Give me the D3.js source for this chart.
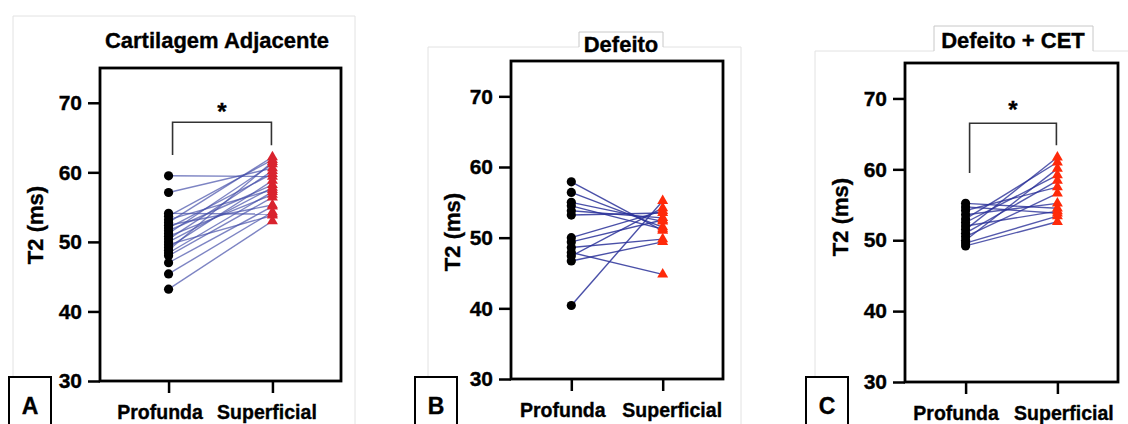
<!DOCTYPE html>
<html>
<head>
<meta charset="utf-8">
<script src="https://cdn.jsdelivr.net/npm/d3@7"></script>
<style>
  body { margin: 0; background: #fff; }
  text { font-family: "Liberation Sans", Arial, sans-serif; font-weight: bold; fill: #000; stroke: #000; stroke-width: 0.35px; }
</style>
</head>
<body>
<div id="chart"></div>
<script>
// categories and ticks
const categories = ["Profunda", "Superficial"];
const yTicks = [30, 40, 50, 60, 70];
const titles = ["Cartilagem Adjacente", "Defeito", "Defeito + CET"];
const letters = ["A", "B", "C"];

// paired T2 values (ms)
const profA = [59.5, 57.1, 54.1, 53.7, 53.2, 52.8, 52.4, 52.0, 51.6, 51.2, 50.8, 50.4, 50.0, 49.6, 49.2, 48.8, 48.4, 48.0, 47.0, 45.4, 43.2];
const supA  = [59.4, 60.6, 54.0, 61.8, 57.5, 62.2, 55.3, 59.8, 58.2, 61.2, 56.8, 60.2, 57.8, 53.8, 58.8, 61.5, 57.2, 56.4, 55.1, 54.3, 53.0];

const profB = [57.9, 56.4, 55.0, 54.5, 53.8, 53.2, 50.0, 49.4, 48.6, 47.9, 47.4, 46.7, 40.4];
const supB  = [51.0, 51.5, 52.3, 51.2, 52.8, 53.5, 53.8, 52.5, 49.8, 44.8, 54.2, 49.4, 55.2];

const profC = [55.2, 54.7, 54.2, 53.6, 53.0, 52.5, 52.0, 51.5, 51.0, 50.5, 50.0, 49.6, 49.2];
const supC  = [54.5, 53.8, 57.5, 55.2, 61.0, 59.2, 54.1, 61.7, 58.4, 56.6, 60.1, 53.4, 52.6];

const profData = [profA, profB, profC];
const supData = [supA, supB, supC];

// layout for each panel (pixels)
const panels = [
  { x0: 100, x1: 341, y0: 68, y1: 381, frame: [13, 16, 355], tab: null,
    titleX: 217, titleY: 48, ylabX: 43, ylabY: 225, letterX: 9, labShift: [-9, -6],
    lineColor: "#4650aa", lineOp: 0.7, triColor: "#d9232e",
    sig: { top: 67.2, left: 62.5, right: 63.9, star: 69.6 } },
  { x0: 511, x1: 723, y0: 61, y1: 379, frame: [428, 47, 741], tab: [579, 32, 663],
    titleX: 621, titleY: 52, ylabX: 460, ylabY: 232, letterX: 415, labShift: [-9, 9],
    lineColor: "#2a3199", lineOp: 0.85, triColor: "#ff2a0a", sig: null },
  { x0: 905, x1: 1118, y0: 63, y1: 382, frame: [815, 51, 1140], tab: [934, 26, 1093],
    titleX: 1013, titleY: 48, ylabX: 848, ylabY: 217, letterX: 806, labShift: [-10, 6],
    lineColor: "#2a3199", lineOp: 0.8, triColor: "#ff2a0a",
    sig: { top: 66.5, left: 59.5, right: 63.4, star: 69.2 } }
];

const svg = d3.select("#chart").append("svg")
  .attr("width", 1128)
  .attr("height", 424);

panels.forEach(function(p, i) {
  const g = svg.append("g");

  //light grey panel frame
  g.append("path")
    .attr("d", `M${p.frame[0]},440V${p.frame[1]}H${p.frame[2]}V440`)
    .attr("fill", "none")
    .attr("stroke", "#e2e2e2")
    .attr("stroke-width", 1);

  //title tab (B and C)
  if (p.tab) {
    g.append("rect")
      .attr("x", p.tab[0]).attr("y", p.tab[1])
      .attr("width", p.tab[2] - p.tab[0]).attr("height", p.frame[1] - p.tab[1] + 1)
      .attr("fill", "#fff");
    g.append("path")
      .attr("d", `M${p.tab[0]},${p.frame[1]}V${p.tab[1]}H${p.tab[2]}V${p.frame[1]}`)
      .attr("fill", "none")
      .attr("stroke", "#c8c8c8")
      .attr("stroke-width", 1);
  }

  g.append("text")
    .attr("x", p.titleX).attr("y", p.titleY)
    .attr("text-anchor", "middle")
    .style("font-size", "22px")
    .text(titles[i]);

  const x = d3.scalePoint().domain(categories).range([p.x0, p.x1]).padding(0.66);
  const y = d3.scaleLinear().domain([30, 75]).range([p.y1, p.y0]);

  //plot box
  g.append("rect")
    .attr("x", p.x0).attr("y", p.y0)
    .attr("width", p.x1 - p.x0).attr("height", p.y1 - p.y0)
    .attr("fill", "none")
    .attr("stroke", "#000")
    .attr("stroke-width", 2.8);

  //y axis
  const yAxis = g.append("g")
    .attr("transform", `translate(${p.x0},0)`)
    .call(d3.axisLeft(y).tickValues(yTicks).tickSize(12).tickPadding(6));
  yAxis.select(".domain").remove();
  yAxis.selectAll("line").attr("stroke-width", 2.5);
  yAxis.selectAll("text")
    .style("font-size", "21px")
    .style("font-family", "Liberation Sans, Arial, sans-serif")
    .style("font-weight", "bold");

  //x axis
  const xAxis = g.append("g")
    .attr("transform", `translate(0,${p.y1})`)
    .call(d3.axisBottom(x).tickSize(12).tickPadding(12));
  xAxis.select(".domain").remove();
  xAxis.selectAll("line").attr("stroke-width", 2.5);
  xAxis.selectAll("text")
    .attr("dx", function(d, k) { return p.labShift[k]; })
    .style("font-size", "19.5px")
    .style("font-family", "Liberation Sans, Arial, sans-serif")
    .style("font-weight", "bold");

  //y label
  g.append("text")
    .attr("transform", `translate(${p.ylabX},${p.ylabY}) rotate(-90)`)
    .attr("text-anchor", "middle")
    .style("font-size", "22px")
    .text("T2 (ms)");

  //panel letter box
  g.append("rect")
    .attr("x", p.letterX).attr("y", 377)
    .attr("width", 42).attr("height", 60)
    .attr("fill", "#fff")
    .attr("stroke", "#000")
    .attr("stroke-width", 2);
  g.append("text")
    .attr("x", p.letterX + 21).attr("y", 414)
    .attr("text-anchor", "middle")
    .style("font-size", "23px")
    .text(letters[i]);

  //pairs
  const pairs = profData[i].map(function(v, j) { return { a: v, b: supData[i][j] }; });

  g.selectAll(".pair")
    .data(pairs)
    .enter()
    .append("line")
      .attr("x1", x(categories[0]))
      .attr("x2", x(categories[1]))
      .attr("y1", function(d) { return y(d.a); })
      .attr("y2", function(d) { return y(d.b); })
      .attr("stroke", p.lineColor)
      .attr("stroke-opacity", p.lineOp)
      .attr("stroke-width", 1.4);

  g.selectAll(".dot")
    .data(pairs)
    .enter()
    .append("circle")
      .attr("cx", x(categories[0]))
      .attr("cy", function(d) { return y(d.a); })
      .attr("r", 4.6)
      .attr("fill", "#000");

  const tri = d3.symbol().type(d3.symbolTriangle).size(52);
  g.selectAll(".tri")
    .data(pairs)
    .enter()
    .append("path")
      .attr("d", tri)
      .attr("transform", function(d) { return `translate(${x(categories[1])},${y(d.b)})`; })
      .attr("fill", p.triColor);

  //significance bracket
  if (p.sig) {
    const xa = x(categories[0]) + 4, xb = x(categories[1]) - 1;
    g.append("path")
      .attr("d", `M${xa},${y(p.sig.left)}V${y(p.sig.top)}H${xb}V${y(p.sig.right)}`)
      .attr("fill", "none")
      .attr("stroke", "#333")
      .attr("stroke-width", 1.6);
    g.append("text")
      .attr("x", (xa + xb) / 2)
      .attr("y", y(p.sig.star) + 14)
      .attr("text-anchor", "middle")
      .style("font-size", "24px")
      .text("*");
  }
});
</script>
</body>
</html>
